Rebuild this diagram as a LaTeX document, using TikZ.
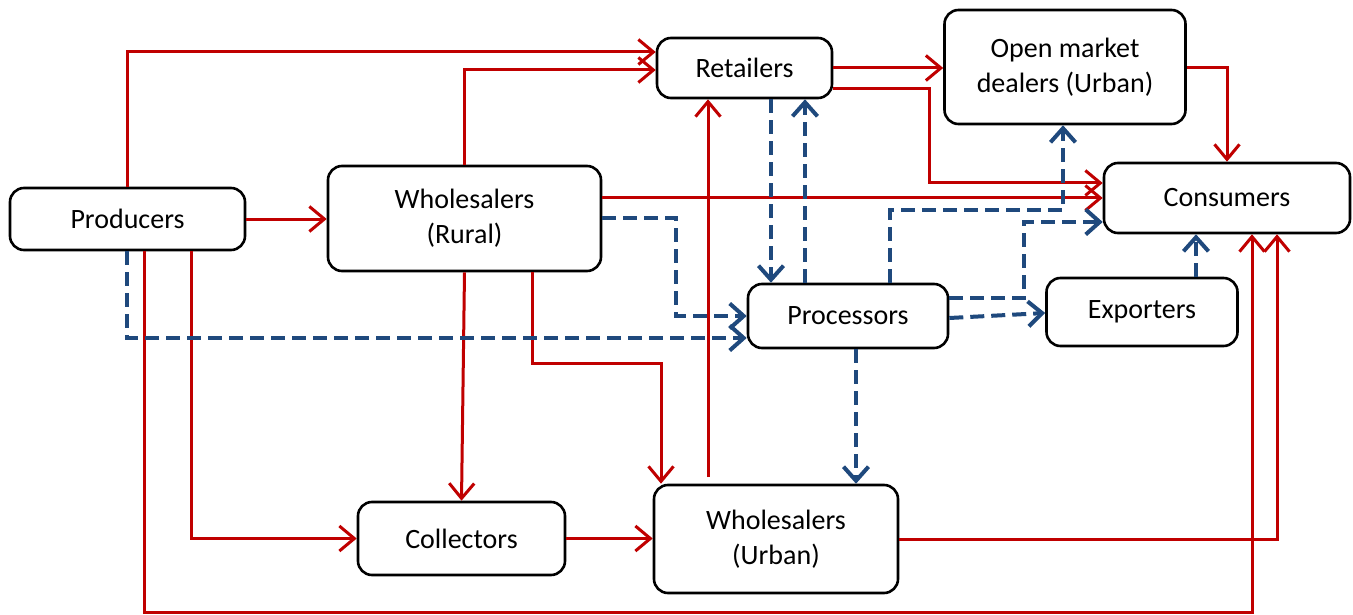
\documentclass[tikz,border=0pt]{standalone}
\usepackage{fontspec}
\setmainfont{Carlito}
\usetikzlibrary{arrows.meta,calc}
\definecolor{rd}{HTML}{C00000}
\definecolor{bl}{HTML}{1F497D}
\begin{document}
\begin{tikzpicture}[x=1pt,y=-1pt,
  box/.style={draw=black, line width=2.6pt, rounded corners=14pt, fill=white, align=center,
    font=\fontsize{28}{35}\selectfont, inner sep=0pt},
  ra/.style={draw=rd, line width=3pt, -{Straight Barb[length=15pt,width=25pt,line width=3pt]}},
  ba/.style={draw=bl, line width=4pt, dash pattern=on 14pt off 7pt,
    -{Straight Barb[length=14pt,width=25pt,line width=4pt]}}]
\path[use as bounding box, fill=white] (0,0) rectangle (1353,615);

\node[box, minimum width=235, minimum height=62] (prod) at (127.5,219) {Producers};
\node[box, minimum width=273, minimum height=105] (wr) at (464.5,218.5) {Wholesalers\\(Rural)};
\node[box, minimum width=175, minimum height=60] (ret) at (744.5,68) {Retailers};
\node[box, minimum width=241, minimum height=114] (omd) at (1065,67) {Open market\\dealers (Urban)};
\node[box, minimum width=246, minimum height=70] (cons) at (1227,198) {Consumers};
\node[box, minimum width=191, minimum height=68] (exp) at (1142,312) {Exporters};
\node[box, minimum width=200, minimum height=64] (proc) at (848,316) {Processors};
\node[box, minimum width=207, minimum height=73] (col) at (461.5,538.5) {Collectors};
\node[box, minimum width=244, minimum height=108] (wu) at (776,539) {Wholesalers\\(Urban)};

% red solid flows
\draw[ra] (prod.north) |- (ret.west |- 0,52);
\draw[ra] (wr.north) |- (ret.west |- 0,70);
\draw[ra] (prod.east) -- (wr.west |- prod.east);
\draw[ra] (wr.east |- 0,198) -- (cons.west |- 0,198);
\draw[ra] (ret.east |- 0,68) -- (omd.west |- 0,68);
\draw[ra] (ret.east |- 0,89) -- ++(96,0) |- (cons.west |- 0,183);
\draw[ra] (omd.east |- 0,68) -| (cons.north);
\draw[ra] (wr.south) -- (col.north);
\draw[ra] (532,0 |- wr.south) -- (532,363) -| (wu.north -| 661,0);
\draw[ra] (191,0 |- prod.south) |- (col.west);
\draw[ra] (144,0 |- prod.south) -- (144,612) -| (1252,0 |- cons.south);
\draw[ra] (col.east) -- (wu.west |- col.east);
\draw[ra] (708,477) -- (708,0 |- ret.south);
\draw[ra] (wu.east) -| (1277,0 |- cons.south);

% blue dashed flows
\draw[ba] (127,0 |- prod.south) |- (proc.west |- 0,338);
\draw[ba] (wr.east |- 0,218) -- (676,218) |- (proc.west |- 0,316);
\draw[ba] (771,0 |- ret.south) -- (771,0 |- proc.north);
\draw[ba] (805,0 |- proc.north) -- (805,0 |- ret.south);
\draw[ba] (890,0 |- proc.north) |- (1063,210) -- (1063,0 |- omd.south);
\draw[ba] (proc.east |- 0,298) -- (1024,298) |- (cons.west |- 0,222);
\draw[ba] (proc.east |- 0,318) -- (exp.west |- 0,313);
\draw[ba] (1196,0 |- exp.north) -- (1196,0 |- cons.south);
\draw[ba] (856,0 |- proc.south) -- (856,0 |- wu.north);
\end{tikzpicture}
\end{document}
